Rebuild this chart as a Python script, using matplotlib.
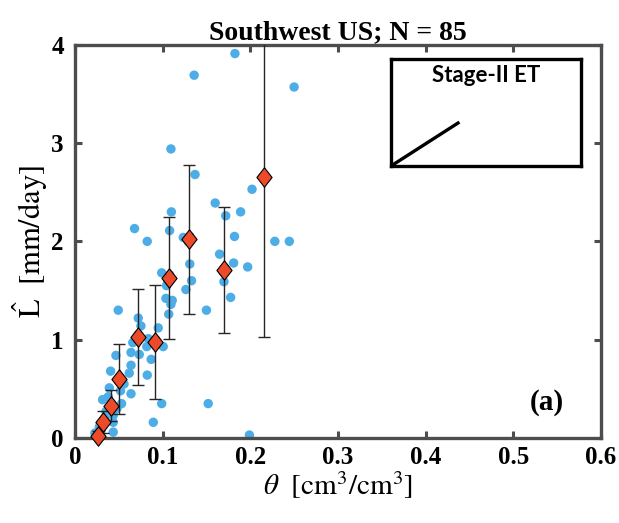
import matplotlib
matplotlib.use('Agg')
import matplotlib.pyplot as plt
import numpy as np

### -------------------------------------------------------------------------------------------------------------------
### Data
### -------------------------------------------------------------------------------------------------------------------

# individual sites: soil moisture vs. estimated loss rate
thetaSites = [0.1825, 0.136, 0.250, 0.1095, 0.137, 0.202,
              0.160, 0.172, 0.189, 0.110, 0.068, 0.108,
              0.0825, 0.1236, 0.182, 0.228, 0.2445,
              0.165, 0.131, 0.181, 0.197, 0.099, 0.133, 0.170,
              0.1045, 0.1266, 0.1038, 0.111, 0.1095, 0.1776,
              0.0494, 0.150, 0.107, 0.0722, 0.0753, 0.095,
              0.0837, 0.082, 0.1007, 0.064, 0.0734, 0.0468,
              0.064, 0.0407, 0.0825, 0.0392, 0.052, 0.064,
              0.0316, 0.0532, 0.099, 0.152, 0.0354, 0.0437,
              0.0894, 0.0437, 0.0278, 0.0437, 0.199,
              0.0228, 0.0290, 0.0330, 0.0400, 0.0420, 0.0500,
              0.0510, 0.0700, 0.0720, 0.0900, 0.0920, 0.1060,
              0.1080, 0.1290, 0.1310, 0.1690, 0.1710, 0.0250,
              0.0340, 0.0480, 0.0560, 0.0620, 0.0870, 0.0660,
              0.0380, 0.0300]
lossSites = [3.91, 3.69, 3.57, 2.94, 2.68, 2.53,
             2.39, 2.26, 2.30, 2.30, 2.13, 2.11,
             2.00, 2.04, 2.05, 2.00, 2.00,
             1.87, 1.77, 1.78, 1.74, 1.68, 1.60, 1.59,
             1.55, 1.51, 1.42, 1.40, 1.36, 1.43,
             1.30, 1.30, 1.26, 1.22, 1.14, 1.12,
             1.01, 0.93, 0.93, 0.87, 0.85, 0.84,
             0.74, 0.68, 0.64, 0.51, 0.48, 0.45,
             0.39, 0.35, 0.35, 0.35, 0.27, 0.23,
             0.16, 0.16, 0.11, 0.06, 0.03,
             0.05, 0.14, 0.18, 0.32, 0.35, 0.58,
             0.62, 1.00, 1.05, 0.96, 1.00, 1.60,
             1.66, 2.00, 2.05, 1.69, 1.73, 0.04,
             0.20, 0.30, 0.55, 0.66, 0.80, 0.97,
             0.42, 0.08]

# binned means and standard deviations
thetaBins = [0.0266, 0.032, 0.041, 0.0506, 0.0715, 0.0912, 0.107, 0.130, 0.170, 0.216]
lossBins = [0.02, 0.16, 0.33, 0.60, 1.03, 0.98, 1.63, 2.02, 1.71, 2.65]
lossBinsStd = [0.05, 0.11, 0.16, 0.36, 0.49, 0.58, 0.62, 0.76, 0.64, 1.62]

xTicks = [0, 0.1, 0.2, 0.3, 0.4, 0.5, 0.6]
xTickLabels = ['0', '0.1', '0.2', '0.3', '0.4', '0.5', '0.6']
yTicks = [0, 1, 2, 3, 4]

siteColor = (0.30, 0.68, 0.90)
binColor = (0.93, 0.29, 0.16)
spineColor = (0.30, 0.30, 0.30)

### -------------------------------------------------------------------------------------------------------------------
### Plot
### -------------------------------------------------------------------------------------------------------------------

plt.rcParams['font.family'] = ['Liberation Serif', 'DejaVu Serif']
plt.rcParams['mathtext.fontset'] = 'stix'

fig = plt.figure(figsize=(6.19, 5.23), dpi=100)
ax = fig.add_axes([0.121, 0.1625, 0.850, 0.752])

ax.scatter(thetaSites, lossSites, s=46, color=siteColor, edgecolors='none', zorder=2)

diamond = [(0, 1), (0.78, 0), (0, -1), (-0.78, 0), (0, 1)]
ax.errorbar(thetaBins, lossBins, yerr=lossBinsStd, fmt='none', ecolor=(0.15, 0.15, 0.15),
            elinewidth=1.0, capsize=4.5, capthick=1.0, zorder=3)
ax.plot(thetaBins, lossBins, linestyle='none', marker=diamond, markersize=14,
        markerfacecolor=binColor, markeredgecolor='black', markeredgewidth=0.8,
        zorder=4, clip_on=False)

ax.set_xlim(0, 0.6)
ax.set_ylim(0, 4)
ax.set_xticks(xTicks)
ax.set_yticks(yTicks)
ax.set_xticklabels(xTickLabels, fontweight='bold', fontsize=18)
ax.set_yticklabels([str(t) for t in yTicks], fontweight='bold', fontsize=18)
ax.tick_params(direction='in', length=5, width=2.2, color=spineColor, top=True, right=True)
ax.tick_params(axis='x', pad=6)
ax.tick_params(axis='y', pad=8)
for spine in ax.spines.values():
    spine.set_linewidth(2.4)
    spine.set_color(spineColor)

ax.set_xlabel(r'$\theta\ \ [\mathrm{cm}^3/\mathrm{cm}^3]$', fontsize=21, labelpad=0)
ax.set_ylabel(r'$\hat{\mathrm{L}}\ \ [\mathrm{mm/day}]$', fontsize=22, labelpad=1)
ax.set_title('Southwest US; N = 85', fontweight='bold', fontsize=20, pad=4)

ax.text(0.538, 0.36, '(a)', fontweight='bold', fontsize=21, ha='center', va='center')

# schematic of stage-II evaporation
inset = fig.add_axes([391 / 619, 1 - 166 / 523, 190 / 619, 107 / 523])
inset.set_xlim(0, 1)
inset.set_ylim(0, 1)
inset.set_xticks([])
inset.set_yticks([])
for spine in inset.spines.values():
    spine.set_linewidth(2.4)
    spine.set_color('black')
inset.plot([0, 0.36], [0, 0.41], color='black', linewidth=2.4, solid_capstyle='butt')
inset.text(0.5, 0.85, 'Stage-II ET', family=['Lato', 'DejaVu Sans'], fontweight='bold',
           fontsize=16, ha='center', va='center')

fig.savefig('out.png', dpi=100)
